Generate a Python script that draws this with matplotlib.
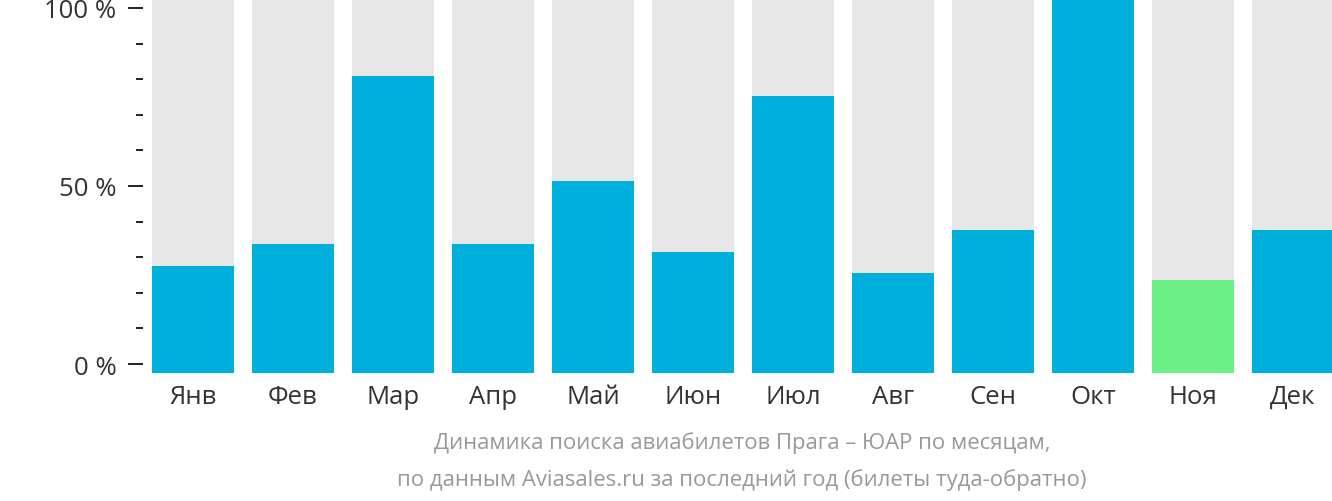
import matplotlib.pyplot as plt
from matplotlib.ticker import MultipleLocator

plt.rcParams['font.family'] = ['Open Sans', 'DejaVu Sans']

# Data
months = ["Янв", "Фев", "Мар", "Апр", "Май", "Июн", "Июл", "Авг", "Сен", "Окт", "Ноя", "Дек"]
values = [27.5, 33.6, 81.0, 33.6, 51.3, 31.4, 75.3, 25.5, 37.6, 102.5, 23.5, 37.6]
current = "Ноя"

blue = "#00b0dc"
green = "#6bef87"
grey = "#e7e7e7"

fig = plt.figure(figsize=(13.32, 5.02), dpi=100)
ax = fig.add_axes([143 / 1332, 128 / 502, 1 - 143 / 1332, 374 / 502])

base = -2.5
top = 102.5
x = range(len(months))
colors = [green if m == current else blue for m in months]

ax.bar(x, [top - base] * len(months), bottom=base, width=0.82, color=grey, zorder=1)
ax.bar(x, [v - base for v in values], bottom=base, width=0.82, color=colors, zorder=2)

ax.set_ylim(base, top)
ax.set_xlim(-0.5, 11.39)

ax.set_yticks([0, 50, 100])
ax.set_yticklabels(["0 %", "50 %", "100 %"])
ax.yaxis.set_minor_locator(MultipleLocator(10))
ax.tick_params(axis="y", which="major", length=11, width=1.4, color="#222222",
               labelsize=18.5, labelcolor="#333333", pad=8)
ax.tick_params(axis="y", which="minor", length=5, width=1.4, color="#222222")

ax.set_xticks(list(x))
ax.set_xticklabels(months)
ax.tick_params(axis="x", length=0, labelsize=18.5, labelcolor="#333333", pad=8)

for s in ax.spines.values():
    s.set_visible(False)

fig.text(0.557, 1 - 443 / 502, "Динамика поиска авиабилетов Прага – ЮАР по месяцам,",
         ha="center", va="center", fontsize=15.9, color="#999999")
fig.text(0.557, 1 - 480 / 502, "по данным Aviasales.ru за последний год (билеты туда-обратно)",
         ha="center", va="center", fontsize=15.9, color="#999999")

fig.savefig("out.png", dpi=100)
